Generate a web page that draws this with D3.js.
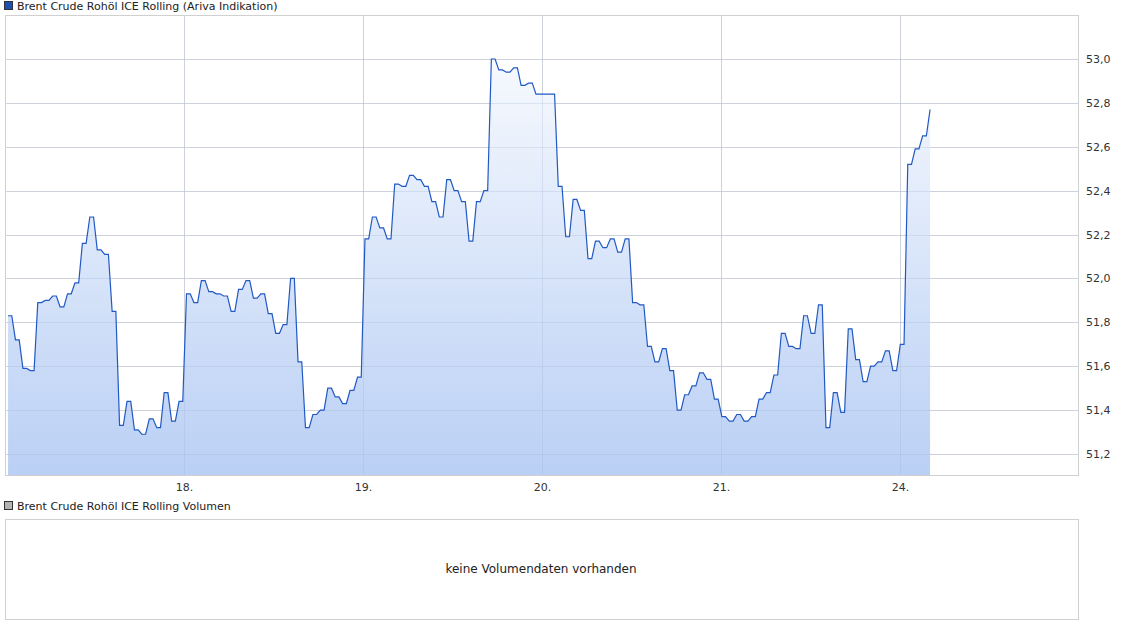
<!DOCTYPE html>
<html><head><meta charset="utf-8">
<script src="https://cdn.jsdelivr.net/npm/d3@7"></script>
<style>body{margin:0;background:#fff;font-family:"DejaVu Sans",sans-serif}</style>
</head><body><svg id="c" width="1125" height="630"></svg>
<script>
const dayLabels = ["18.","19.","20.","21.","24."];
const yTicks = [51.2,51.4,51.6,51.8,52.0,52.2,52.4,52.6,52.8,53.0];
const prices = [51.83,51.72,51.59,51.58,51.89,51.90,51.92,51.87,51.93,51.98,52.16,52.28,52.13,52.11,51.85,51.33,51.44,51.31,51.29,51.36,51.32,51.48,51.35,51.44,
51.93,51.89,51.99,51.94,51.93,51.92,51.85,51.95,51.99,51.91,51.93,51.84,51.75,51.79,52.00,51.62,51.32,51.38,51.40,51.50,51.46,51.43,51.49,51.55,
52.18,52.28,52.23,52.18,52.43,52.42,52.47,52.45,52.42,52.35,52.28,52.45,52.40,52.35,52.17,52.35,52.40,53.00,52.95,52.94,52.96,52.88,52.89,52.84,52.84,52.84,
52.42,52.19,52.36,52.31,52.09,52.17,52.14,52.18,52.12,52.18,51.89,51.88,51.69,51.62,51.68,51.58,51.40,51.47,51.51,51.57,51.54,51.45,51.37,
51.35,51.38,51.35,51.37,51.45,51.48,51.56,51.75,51.69,51.68,51.83,51.75,51.88,51.32,51.48,51.39,51.77,51.63,51.53,51.60,51.62,51.67,51.58,51.70,
52.52,52.59,52.65,52.77];
const tStart = 0.017, tEnd = 5.168; // trading-day positions of first/last sample

const svg = d3.select("#c");
const L=5,R=1079,T=15,B=476;
const x = d3.scaleLinear().domain([0,6]).range([L,R]);
const y = d3.scaleLinear().domain([51.2,53.0]).range([454,59]);
const grid = "#dcdcdc";
svg.append("rect").attr("x",L+0.5).attr("y",T+0.5).attr("width",R-L-1).attr("height",B-T-1).attr("fill","#fff").attr("stroke","#d0d0d0");
yTicks.forEach(v=>{
  svg.append("line").attr("x1",L).attr("x2",R).attr("y1",Math.round(y(v))+0.5).attr("y2",Math.round(y(v))+0.5).attr("stroke",grid);
  svg.append("text").attr("x",1086).attr("y",y(v)+4).attr("font-size",11).attr("fill","#333").text(v.toFixed(1).replace(".",","));
});
dayLabels.forEach((d,i)=>{
  const px=Math.round(x(i+1))+0.5;
  svg.append("line").attr("x1",px).attr("x2",px).attr("y1",T).attr("y2",B).attr("stroke",grid);
  svg.append("text").attr("x",px).attr("y",491).attr("text-anchor","middle").attr("font-size",11).attr("fill","#333").text(d);
});
// build step-ish points
const n=prices.length, step=(tEnd-tStart)/(n-1);
const pts=[];
prices.forEach((v,i)=>{const t=tStart+i*step; pts.push([t,v]); if(i<n-1) pts.push([t+step*0.5,v]);});
const defs=svg.append("defs");
const g=defs.append("linearGradient").attr("id","gf").attr("x1",0).attr("x2",0).attr("y1",0).attr("y2",1);
g.append("stop").attr("offset","0%").attr("stop-color","#f6f9fe");
g.append("stop").attr("offset","100%").attr("stop-color","#b6cdf4");
const gy=y(53.0);
g.attr("gradientUnits","userSpaceOnUse").attr("y1",gy).attr("y2",B);
svg.append("path").datum(pts).attr("fill","url(#gf)").attr("opacity",0.95)
  .attr("d",d3.area().x(d=>x(d[0])).y0(B-1).y1(d=>y(d[1])));
// redraw grid faintly over fill
yTicks.forEach(v=>svg.append("line").attr("x1",L).attr("x2",R).attr("y1",Math.round(y(v))+0.5).attr("y2",Math.round(y(v))+0.5).attr("stroke","#a0b4d8").attr("opacity",0.25));
dayLabels.forEach((d,i)=>{const px=Math.round(x(i+1))+0.5;svg.append("line").attr("x1",px).attr("x2",px).attr("y1",T).attr("y2",B).attr("stroke","#a0b4d8").attr("opacity",0.25);});
svg.append("path").datum(pts).attr("fill","none").attr("stroke","#2159c4").attr("stroke-width",1.2)
  .attr("d",d3.line().x(d=>x(d[0])).y(d=>y(d[1])));
// legends
svg.append("rect").attr("x",4.5).attr("y",1.5).attr("width",8).attr("height",8).attr("fill","#1e50b4").attr("stroke","#333");
svg.append("text").attr("x",17).attr("y",10).attr("font-size",11).attr("fill","#222").text("Brent Crude Rohöl ICE Rolling (Ariva Indikation)");
svg.append("rect").attr("x",4.5).attr("y",501.5).attr("width",8).attr("height",8).attr("fill","#b4b4b4").attr("stroke","#333");
svg.append("text").attr("x",17).attr("y",510).attr("font-size",11).attr("fill","#222").text("Brent Crude Rohöl ICE Rolling Volumen");
svg.append("rect").attr("x",L+0.5).attr("y",519.5).attr("width",R-L-1).attr("height",100).attr("fill","#fff").attr("stroke","#d0d0d0");
svg.append("text").attr("x",541).attr("y",573).attr("text-anchor","middle").attr("font-size",12).attr("fill","#222").text("keine Volumendaten vorhanden");
</script></body></html>
